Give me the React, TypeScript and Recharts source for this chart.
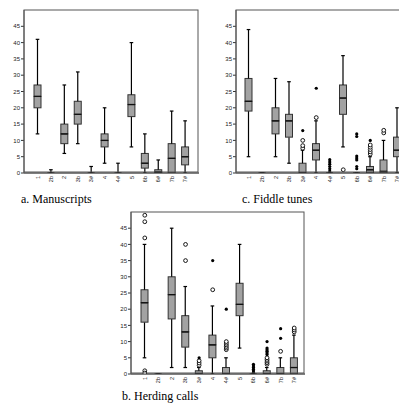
import React from 'react';
import { ComposedChart, Bar, Scatter, XAxis, YAxis } from 'recharts';

// scale degrees on the x axis
const CATS = ['1', '2b', '2', '3b', '3#', '4', '4#', '5', '6b', '6#', '7b', '7#'];
const Y_TICKS = [0, 5, 10, 15, 20, 25, 30, 35, 40, 45];

// a. Manuscripts
const msMin = [12, 0, 6, 9, 0, 3, 0, 8, 0, 0, 0, 0];
const msQ1 = [20, 0, 9, 15, 0, 8, 0, 17.3, 1.5, 0, 0, 2.5];
const msMed = [23.5, 0, 12, 18, 0, 10, 0, 21, 3, 0.3, 4.5, 5];
const msQ3 = [27, 0, 15, 22, 0, 12, 0, 24, 6, 1, 9, 8];
const msMax = [41, 1, 27, 31, 2, 20, 3, 40, 12, 4, 19, 16];
const msOut: number[][] = [[], [], [], [], [], [], [], [], [], [], [], []];
const msExt: number[][] = [[], [], [], [], [], [], [], [], [], [], [], []];

// b. Herding calls
const hcMin = [5, 0, 2, 2, 0, 0, 0, 8, 0, 0, 0, 0];
const hcQ1 = [16, 0, 17, 8.3, 0, 5, 0, 18, 0, 0, 0, 0];
const hcMed = [22, 0, 24.5, 13, 0, 9, 0, 21.5, 0, 0, 0, 2];
const hcQ3 = [26, 0, 30, 18, 1, 12, 2, 28, 0, 1, 2, 5];
const hcMax = [40, 0, 45, 27, 2, 21, 5, 40, 0, 2, 5, 12];
const hcOut: number[][] = [
  [49, 47, 42, 1, 0.3], [], [], [40, 35], [2.7, 3.4, 4.1], [26],
  [7.5, 8, 8.5, 9, 9.5, 10], [], [], [3, 3.5, 4, 4.5, 5], [7], [13, 13.6, 14.2],
];
const hcExt: number[][] = [
  [], [], [], [], [5], [35], [20], [], [0.5, 1, 1.5, 2, 2.5, 3],
  [6, 6.5, 7, 7.5, 8, 10], [11, 14], [],
];

// c. Fiddle tunes
const ftMin = [5, 0, 5, 3, 0, 0, 0, 8, 0, 0, 0, 0];
const ftQ1 = [19, 0, 12, 11, 0, 4, 0, 18, 0, 0, 0, 5];
const ftMed = [22, 0, 16, 16, 0, 7, 0, 23, 0, 1, 0.5, 7];
const ftQ3 = [29, 0, 20, 18, 3, 9, 0, 27, 0, 2, 4, 11];
const ftMax = [44, 0, 29, 28, 7, 16, 0, 36, 0, 5, 10, 20];
const ftOut: number[][] = [
  [], [], [], [], [7.6, 8.4, 10], [17], [], [1], [], [5.8, 6.5, 7.2, 7.9, 8.6], [12.3, 13.1], [],
];
const ftExt: number[][] = [
  [], [], [], [], [13], [26], [0.6, 1.3, 2, 2.7, 3.4, 4.1], [],
  [1.3, 2, 4, 4.6, 5.2, 11.2, 12], [10], [], [],
];

const BOX_FILL = '#a2a2a2';
const EDGE = '#333';
const SANS = '"Liberation Sans", Arial, sans-serif';
const SERIF = '"Liberation Serif", "Times New Roman", serif';

type Row = Record<string, string | number>;

const buildRows = (
  min: number[], q1: number[], med: number[], q3: number[], max: number[],
  out: number[][], ext: number[][],
): Row[] =>
  CATS.map((cat, i) => {
    const row: Row = {
      cat,
      base: min[i],
      lw: q1[i] - min[i],
      lb: med[i] - q1[i],
      ub: q3[i] - med[i],
      uw: max[i] - q3[i],
    };
    out[i].forEach((v, k) => { row['o' + k] = v; });
    ext[i].forEach((v, k) => { row['e' + k] = v; });
    return row;
  });

const span = (p: any) => {
  const top = Math.min(p.y, p.y + p.height);
  const bot = Math.max(p.y, p.y + p.height);
  return { cx: p.x + p.width / 2, top, bot };
};

const Empty = () => <g />;

const LowWhisker = (p: any) => {
  const { cx, top, bot } = span(p);
  return (
    <g>
      <line x1={cx} x2={cx} y1={top} y2={bot} stroke="#000" strokeWidth={1.2} />
      <line x1={cx - 1.8} x2={cx + 1.8} y1={bot} y2={bot} stroke="#000" strokeWidth={1.2} />
    </g>
  );
};

const HighWhisker = (p: any) => {
  const { cx, top, bot } = span(p);
  return (
    <g>
      <line x1={cx} x2={cx} y1={top} y2={bot} stroke="#000" strokeWidth={1.2} />
      <line x1={cx - 1.8} x2={cx + 1.8} y1={top} y2={top} stroke="#000" strokeWidth={1.2} />
    </g>
  );
};

const LowBox = (p: any) => {
  const { top, bot } = span(p);
  return <rect x={p.x} y={top} width={p.width} height={bot - top} fill={BOX_FILL} stroke={EDGE} strokeWidth={1} />;
};

const HighBox = (p: any) => {
  const { top, bot } = span(p);
  return (
    <g>
      <rect x={p.x} y={top} width={p.width} height={bot - top} fill={BOX_FILL} stroke={EDGE} strokeWidth={1} />
      <line x1={p.x} x2={p.x + p.width} y1={bot} y2={bot} stroke="#111" strokeWidth={1.3} />
    </g>
  );
};

const dotShape = (filled: boolean) => (p: any) => {
  if (p.cy == null || p.cx == null || Number.isNaN(p.cy)) return <g />;
  return filled
    ? <circle cx={p.cx} cy={p.cy} r={1.6} fill="#000" />
    : <circle cx={p.cx} cy={p.cy} r={1.9} fill="#fff" stroke="#000" strokeWidth={0.9} />;
};

const CatTick = (p: any) => (
  <text
    transform={`translate(${p.x},${p.y}) rotate(-90)`}
    textAnchor="end"
    dy="0.35em"
    fontSize={5.5}
    fontFamily={SANS}
    fill="#222"
  >
    {p.payload.value}
  </text>
);

interface PanelProps {
  rows: Row[];
  nOut: number;
  nExt: number;
  left: number;
  top: number;
  width: number;
  plotH: number;
  padL: number;
  padR: number;
}

const Panel: React.FC<PanelProps> = ({ rows, nOut, nExt, left, top, width, plotH, padL, padR }) => (
  <div style={{ position: 'absolute', left, top }}>
    <ComposedChart
      width={width}
      height={plotH + 30}
      data={rows}
      margin={{ top: 10, right: 1, bottom: 0, left: 0 }}
    >
      <XAxis
        dataKey="cat"
        type="category"
        height={20}
        padding={{ left: padL, right: padR }}
        axisLine={{ stroke: '#000', strokeWidth: 1 }}
        tickLine={false}
        tickSize={0}
        tickMargin={3}
        interval={0}
        tick={<CatTick />}
      />
      <YAxis
        type="number"
        domain={[0, 50]}
        ticks={Y_TICKS}
        allowDataOverflow
        width={24}
        axisLine={{ stroke: '#555' }}
        tickLine={{ stroke: '#333' }}
        tickSize={3}
        tickMargin={1}
        tick={{ fontSize: 6, fontFamily: SANS, fill: '#222' }}
      />
      <Bar dataKey="base" stackId="b" barSize={7} shape={Empty} isAnimationActive={false} />
      <Bar dataKey="lw" stackId="b" barSize={7} shape={LowWhisker} isAnimationActive={false} />
      <Bar dataKey="lb" stackId="b" barSize={7} shape={LowBox} isAnimationActive={false} />
      <Bar dataKey="ub" stackId="b" barSize={7} shape={HighBox} isAnimationActive={false} />
      <Bar dataKey="uw" stackId="b" barSize={7} shape={HighWhisker} isAnimationActive={false} />
      {Array.from({ length: nOut }, (_, k) => (
        <Scatter key={'o' + k} dataKey={'o' + k} shape={dotShape(false)} isAnimationActive={false} />
      ))}
      {Array.from({ length: nExt }, (_, k) => (
        <Scatter key={'e' + k} dataKey={'e' + k} shape={dotShape(true)} isAnimationActive={false} />
      ))}
    </ComposedChart>
    {/* frame around the plot area */}
    <div
      style={{
        position: 'absolute',
        left: 24,
        top: 10,
        width: width - 25,
        height: plotH,
        boxSizing: 'border-box',
        border: '1px solid #555',
        pointerEvents: 'none',
        transform: 'translate(-0.5px, -0.5px)',
      }}
    />
  </div>
);

const maxLen = (a: number[][]) => Math.max(0, ...a.map((x) => x.length));

const caption: React.CSSProperties = {
  position: 'absolute',
  fontFamily: SERIF,
  fontSize: 12,
  lineHeight: '12px',
  color: '#000',
  whiteSpace: 'nowrap',
};

export default function App() {
  const ms = buildRows(msMin, msQ1, msMed, msQ3, msMax, msOut, msExt);
  const hc = buildRows(hcMin, hcQ1, hcMed, hcQ3, hcMax, hcOut, hcExt);
  const ft = buildRows(ftMin, ftQ1, ftMed, ftQ3, ftMax, ftOut, ftExt);
  return (
    <div style={{ position: 'absolute', left: 0, top: 0, width: 399, height: 403, overflow: 'hidden', background: '#fff' }}>
      <Panel rows={ms} nOut={maxLen(msOut)} nExt={maxLen(msExt)} left={0} top={0} width={200} plotH={163} padL={7} padR={7} />
      <Panel rows={ft} nOut={maxLen(ftOut)} nExt={maxLen(ftExt)} left={212} top={0} width={200} plotH={163} padL={6} padR={7} />
      <Panel rows={hc} nOut={maxLen(hcOut)} nExt={maxLen(hcExt)} left={107} top={202} width={199} plotH={162} padL={7} padR={4} />
      <div style={{ ...caption, left: 21, top: 193 }}>a. Manuscripts</div>
      <div style={{ ...caption, left: 242, top: 193 }}>c. Fiddle tunes</div>
      <div style={{ ...caption, left: 122, top: 390 }}>b. Herding calls</div>
    </div>
  );
}
